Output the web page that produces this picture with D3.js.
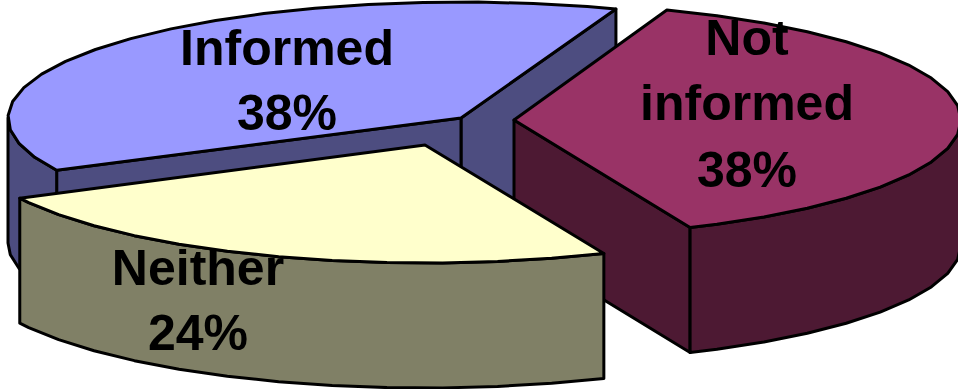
<!DOCTYPE html>
<html><head><meta charset="utf-8">
<script src="https://cdn.jsdelivr.net/npm/d3@7"></script>
<style>html,body{margin:0;padding:0;background:#fff}svg{display:block}text{font-family:"Liberation Sans",Arial,sans-serif;font-weight:700;font-size:50px;fill:#000;text-anchor:middle}</style>
</head><body><script>
const categories=["Not informed","Neither","Informed"];
const values=[38,24,38];
const topColors=["#993366","#FFFFCC","#9999FF"];
const sideColors=["#4D1933","#808066","#4D4D80"];
const labelLines=[["Not","informed","38%"],["Neither","24%"],["Informed","38%"]];
const centers=[[514,120],[425,145],[461,118]];
const radiiX=[447,454,453];
const radiiY=[117,118,116];
const labelPos=[[747,[55,120,187]],[198,[285,350]],[287,[65,130]]];
const drawOrder=[2,0,1];
const W=958,H=389,DEPTH=125;

const svg=d3.select("body").append("svg").attr("width",W).attr("height",H);
const slices=d3.pie().sort(null).startAngle(20*Math.PI/180).endAngle(380*Math.PI/180)(values);
const line=d3.line().curve(d3.curveLinear);
const STEP=7*Math.PI/180;
const rim=(a0,a1)=>{const r=d3.range(a0,a1,STEP);r.push(a1);return r;};
const style=(s,fill)=>s.attr("fill",fill).attr("stroke","#000").attr("stroke-width",3).attr("stroke-linejoin","round");

drawOrder.forEach(i=>{
  const d=slices[i],c=centers[i],a0=d.startAngle,a1=d.endAngle;
  const pt=(a,dy=0)=>[c[0]+radiiX[i]*Math.sin(a),c[1]-radiiY[i]*Math.cos(a)+dy];
  const g=svg.append("g").attr("class","slice").datum(categories[i]);
  // radial walls: only those whose outward normal faces the viewer
  [[a1,Math.sin(a1)],[a0,-Math.sin(a0)]].filter(e=>e[1]>0).forEach(([a])=>{
    const p=pt(a);
    style(g.append("path").attr("d",line([c,p,[p[0],p[1]+DEPTH],[c[0],c[1]+DEPTH]])+"Z"),sideColors[i]);
  });
  // outer wall: the part of the rim facing the viewer
  const lo=Math.max(a0,Math.PI/2),hi=Math.min(a1,3*Math.PI/2);
  if(lo<hi){
    const as=rim(lo,hi);
    const upper=as.map(a=>pt(a)),lower=as.map(a=>pt(a,DEPTH)).reverse();
    style(g.append("path").attr("d",line(upper.concat(lower))+"Z"),sideColors[i]);
  }
  // top face
  style(g.append("path").attr("d",line([c].concat(rim(a0,a1).map(a=>pt(a))))+"Z"),topColors[i]);
});
drawOrder.forEach(i=>{
  const [x,ys]=labelPos[i];
  labelLines[i].forEach((t,k)=>svg.append("text").attr("x",x).attr("y",ys[k]).text(t));
});
</script></body></html>
